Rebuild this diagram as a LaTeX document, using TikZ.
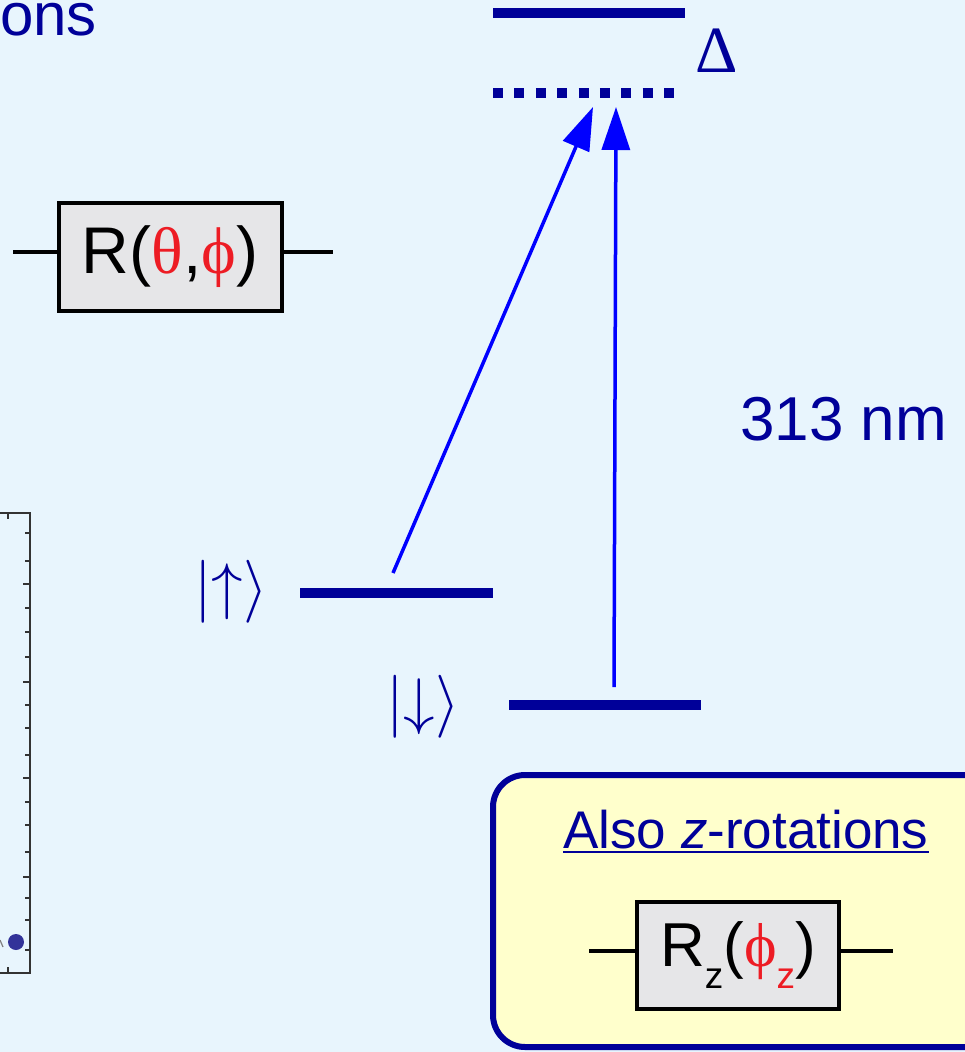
\documentclass[tikz,border=0pt]{standalone}
\usepackage{graphicx}
\usepackage{fontspec}
\setmainfont{Liberation Sans}
\newfontfamily\serifgr{Liberation Serif}
\usetikzlibrary{arrows.meta}
\definecolor{bg}{HTML}{E8F5FD}
\definecolor{dkblue}{HTML}{000099}
\definecolor{laserblue}{HTML}{0000FF}
\definecolor{gred}{HTML}{ED1C24}
\definecolor{gatefill}{HTML}{E6E6E8}
\definecolor{yellowbg}{HTML}{FFFFCC}
\definecolor{axisgray}{HTML}{333333}
\definecolor{dotblue}{HTML}{333399}
\begin{document}
\begin{tikzpicture}[x=1pt,y=-1pt,
  lvl/.style={line width=10pt, draw=dkblue},
  laser/.style={line width=3.5pt, draw=laserblue, -{Triangle[length=43pt,width=28pt,fill=laserblue]}},
  gatebox/.style={draw=black, line width=4pt, fill=gatefill, inner sep=0pt},
  wire/.style={line width=4pt, draw=black},
  lbl/.style={text=dkblue, inner sep=0pt},
  axline/.style={line width=2pt, draw=axisgray},
  axtick/.style={line width=2pt, draw=axisgray}]
\path[use as bounding box, fill=bg] (0,0) rectangle (965,1052);
\clip (0,0) rectangle (965,1052);

% title fragment
\node[lbl, anchor=base east, font=\fontsize{60}{66}\selectfont] (ons) at (97,35) {ons};

% gate R(theta,phi)
\node[gatebox, minimum width=223pt, minimum height=108pt, font=\fontsize{66}{70}\selectfont] (g1) at (170,257)
  {R(\textcolor{gred}{\serifgr θ},\textcolor{gred}{\serifgr ϕ})};
\coordinate (g1l) at (13,252);
\coordinate (g1r) at (333,252);
\draw[wire] (g1l) -- (g1.west |- g1l);
\draw[wire] (g1.east |- g1r) -- (g1r);

% energy levels
\coordinate (e1) at (493,13);  \coordinate (e2) at (685,13);
\coordinate (v1) at (493,93);  \coordinate (v2) at (674,93);
\coordinate (u1) at (300,593); \coordinate (u2) at (493,593);
\coordinate (d1) at (509,705); \coordinate (d2) at (701,705);
\draw[lvl] (e1) -- (e2);
\draw[lvl, dash pattern=on 10pt off 11.375pt] (v1) -- (v2);
\draw[lvl] (u1) -- (u2);
\draw[lvl] (d1) -- (d2);

\node[text=dkblue, inner sep=0pt, anchor=base, font=\serifgr\fontsize{66}{70}\selectfont] (delta) at (717,72) {Δ};

% laser arrows
\coordinate (a1s) at (393,573); \coordinate (a1e) at (593,107);
\coordinate (a2s) at (614,687); \coordinate (a2e) at (616,107);
\draw[laser] (a1s) -- (a1e);
\draw[laser] (a2s) -- (a2e);

\node[lbl, anchor=base west, font=\fontsize{62}{68}\selectfont] (wl) at (740,440) {313 nm};

% kets
\node[lbl, anchor=base] (kup) at (231,607) {\scalebox{6.3}{$|{\uparrow}\rangle$}};
\node[lbl, anchor=base] (kdn) at (423,722) {\scalebox{6.3}{$|{\downarrow}\rangle$}};

% plot axis fragment
\draw[axline] (0,513) -- (30,513) -- (30,973) -- (0,973);
\draw[axtick] (8,513) -- (8,519);
\draw[axtick] (8,973) -- (8,967);
\foreach \yy in {533,561,608,632,657,705,728,755,802,825,852,898,920,950}
  \draw[axtick] (30,\yy) -- (25,\yy);
\foreach \yy in {584,682,778,877}
  \draw[axtick] (30,\yy) -- (22.5,\yy);
\fill[dotblue] (16,942) circle (8pt);
\draw[line width=1.2pt, draw=gray] (0,940) -- (3,947);

% yellow box
\draw[line width=6pt, draw=dkblue, fill=yellowbg, rounded corners=32pt] (493,775) rectangle (1010,1047);
\node[lbl, anchor=base west, font=\fontsize{53}{60}\selectfont] (ztitle) at (563,848) {Also \textit{z}-rotations};
\draw[dkblue, line width=2.5pt] ([yshift=-4pt]ztitle.base west) -- ([yshift=-4pt]ztitle.base east);

\node[gatebox, minimum width=202pt, minimum height=107pt, font=\fontsize{62}{66}\selectfont] (g2) at (738,955.5)
  {R\raisebox{-22pt}{\fontsize{37}{40}\selectfont z}(\textcolor{gred}{{\serifgr ϕ}\raisebox{-22pt}{\fontsize{37}{40}\selectfont z}})};
\coordinate (g2l) at (589,951);
\coordinate (g2r) at (893,951);
\draw[wire] (g2l) -- (g2.west |- g2l);
\draw[wire] (g2.east |- g2r) -- (g2r);
\end{tikzpicture}
\end{document}
